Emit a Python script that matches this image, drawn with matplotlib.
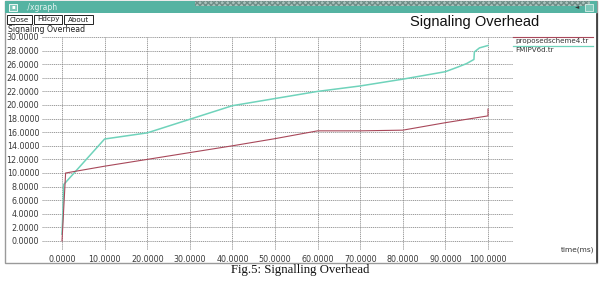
import matplotlib
matplotlib.use("Agg")
import matplotlib.pyplot as plt
from matplotlib.patches import Rectangle

# ---------------- data ----------------
series_names = ["proposedscheme4.tr", "FMIPV6d.tr"]
prop_x = [0, 0.85, 10, 20, 30, 40, 50, 60, 70, 80, 90, 100, 100]
prop_y = [0, 10.0, 11.0, 12.0, 13.0, 14.0, 15.05, 16.2, 16.2, 16.3, 17.4, 18.4, 19.4]
fmip_x = [0, 0.2, 0.4, 10, 20, 30, 40, 50, 60, 70, 80, 90, 93, 95, 96.7, 96.8, 98, 100]
fmip_y = [1.0, 4.0, 8.3, 15.0, 15.9, 17.9, 19.9, 20.95, 22.0, 22.8, 23.8, 24.9, 25.6, 26.1, 26.7, 27.8, 28.4, 28.75]
x_ticks = [0, 10, 20, 30, 40, 50, 60, 70, 80, 90, 100]
y_ticks = [0, 2, 4, 6, 8, 10, 12, 14, 16, 18, 20, 22, 24, 26, 28, 30]
title = "Signaling Overhead"
x_label = "time(ms)"
caption = "Fig.5: Signalling Overhead"
buttons = ["Close", "Hdcpy", "About"]

W, H = 600, 281
fig = plt.figure(figsize=(W / 100, H / 100), dpi=100)
fig.patch.set_facecolor("white")

# background / window decoration axes in pixel coordinates
bg = fig.add_axes([0, 0, 1, 1])
bg.set_xlim(0, W)
bg.set_ylim(H, 0)
bg.axis("off")

teal = "#55b3a2"
# window frame
bg.add_patch(Rectangle((5, 1), 592, 262, fill=False, ec="#9a9a9a", lw=1.0))
# title bar
bg.add_patch(Rectangle((5, 1), 592, 12, fc=teal, ec="none"))
bg.add_patch(Rectangle((195, 1), 395, 5, fc="#a9c2bc", ec="#6f8c86", lw=0, hatch="xxxxxx"))
bg.add_patch(Rectangle((9, 3.5), 8, 7, fc="#7cc7b8", ec="white", lw=0.6))
bg.text(13, 7, "\u25aa", fontsize=4, color="white", ha="center", va="center")
bg.text(25, 7.2, "./xgraph", fontsize=5.5, color="#e6f4f1", ha="left", va="center")
bg.add_patch(Rectangle((585, 3.5), 8, 7, fc="#7cc7b8", ec="#d8efe9", lw=0.6))
bg.text(577, 7, "\u25c4", fontsize=4, color="#333333", ha="center", va="center")
# right dark border
bg.plot([596.5, 596.5], [14, 262], color="#333333", lw=1.2)

# buttons
bx = [7, 34, 64]
bw = [25, 28, 29]
for name, x0, w in zip(buttons, bx, bw):
    bg.add_patch(Rectangle((x0, 14.5), w, 9.5, fc="white", ec="#222222", lw=0.7))
    bg.text(x0 + w / 2, 19.5, name, fontsize=5.1, ha="center", va="center", color="#222222")

bg.text(8, 29.5, title, fontsize=5.6, ha="left", va="center", color="#222222")
bg.text(475, 22, title, fontsize=10.5, ha="center", va="center", color="#111111",
        family="Liberation Sans")
bg.text(594, 250, x_label, fontsize=5.3, ha="right", va="center", color="#333333")
bg.text(300, 270, caption, fontsize=9.2, ha="center", va="center", color="#111111",
        family="Liberation Serif")

# legend
red = "#a8485a"
green = "#6fd3bb"
bg.plot([513, 593], [37, 37], color=red, lw=0.8)
bg.text(515, 41.5, series_names[0], fontsize=5.1, ha="left", va="center", color="#333333")
bg.plot([513, 593], [45.5, 45.5], color=green, lw=0.9)
bg.text(515, 50, series_names[1], fontsize=5.1, ha="left", va="center", color="#333333")

# ---------------- data axes ----------------
px_x0, px_x100 = 62.0, 488.0
px_y0, px_y30 = 241.0, 37.0
sx = (px_x100 - px_x0) / 100.0
sy = (px_y0 - px_y30) / 30.0
left_px, right_px = 42.0, 513.0
top_px, bot_px = 37.0, 250.0
ax = fig.add_axes([left_px / W, 1 - bot_px / H, (right_px - left_px) / W, (bot_px - top_px) / H])
ax.set_xlim((left_px - px_x0) / sx, (right_px - px_x0) / sx)
ax.set_ylim(-(bot_px - px_y0) / sy, 30)
ax.set_facecolor("none")
for s in ax.spines.values():
    s.set_visible(False)
ax.set_xticks(x_ticks)
ax.set_yticks(y_ticks)
ax.set_xticklabels([f"{v:.4f}" for v in x_ticks])
ax.set_yticklabels([f"{v:.4f}" for v in y_ticks])
ax.tick_params(axis="both", length=0, labelsize=5.8, labelcolor="#3a3a3a")
ax.tick_params(axis="y", pad=2)
ax.tick_params(axis="x", pad=3.5)
ax.grid(True, color="#808080", lw=0.55, linestyle=(0, (1.5, 1)))

ax.plot(fmip_x, fmip_y, color=green, lw=1.1, solid_joinstyle="round")
ax.plot(prop_x, prop_y, color=red, lw=0.8, solid_joinstyle="round")

fig.savefig("out.png", dpi=100, facecolor="white")
